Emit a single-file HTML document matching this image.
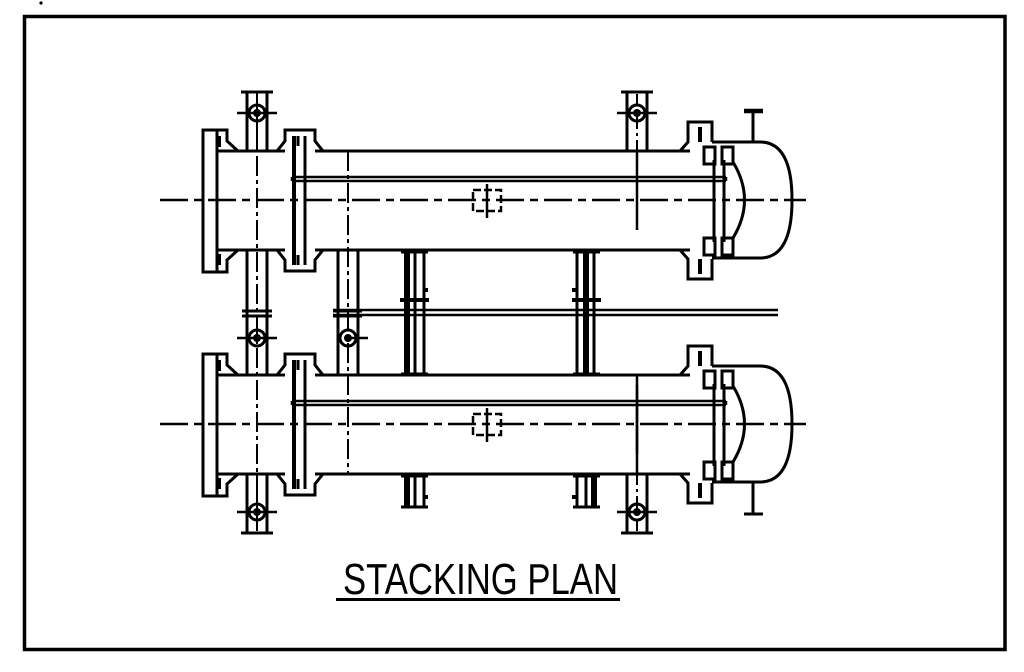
<!DOCTYPE html>
<html><head><meta charset="utf-8"><style>
html,body{margin:0;padding:0;background:#fff;}
svg{display:block;}
</style></head><body>
<svg width="1024" height="672" viewBox="0 0 1024 672" xmlns="http://www.w3.org/2000/svg">
<defs>
<g id="hx" fill="none" stroke="#000" stroke-width="3">
  <!-- left channel flange -->
  <rect x="203" y="130" width="14" height="142"/>
  <path d="M217,130 H227 V141 L238,151 M217,272 H227 V260 L238,250"/>
  <path d="M219,136 V147 M219,254 V265" stroke-width="4"/>
  <!-- channel body -->
  <path d="M217,151 H285 M217,250 H285"/>
  <!-- middle flange pair -->
  <path d="M277,151 L285,141 V130 H315 V141 L323,151"/>
  <path d="M277,250 L285,260 V271 H315 V260 L323,250"/>
  <path d="M294,136 V265" stroke-width="4"/>
  <path d="M305,136 V265"/>
  <path d="M298,136 V146 M298,255 V265" stroke-width="3"/>
  <!-- shell -->
  <path d="M315,151 H690 M315,250 H690"/>
  <!-- tie rod -->
  <path d="M292,177 H726 M292,181 H726 M292,177 V181 M726,177 V181" stroke-width="2.5"/>
  <!-- right flange -->
  <path d="M680,151 L688,142 V122 H712 V142"/>
  <path d="M680,250 L688,259 V279 H712 V259"/>
  <path d="M700,127 V142 M700,259 V274" stroke-width="4"/>
  <!-- head -->
  <path d="M712,142 H760 Q792,142 792,200 Q792,258 760,258 H712"/>
  <rect x="704" y="147" width="11" height="17"/>
  <rect x="722" y="147" width="11" height="17"/>
  <rect x="704" y="238" width="11" height="17"/>
  <rect x="722" y="238" width="11" height="17"/>
  <path d="M714,160 V242 M724,160 V242"/>
  <path d="M733,162 Q756,200 733,238"/>
  <!-- center mark -->
  <path d="M473,190 H501 V211 H473 Z" stroke-width="2.5" stroke-dasharray="8,3"/>
  <path d="M487,184 V218" stroke-width="2.5"/>
  <!-- centerline -->
  <path d="M160,200 H806" stroke-width="2.5" stroke-dasharray="28,6,8,6"/>
  <!-- vertical centerlines -->
  <path d="M637,151 V230" stroke-width="2.5"/>
</g>
<g id="noz" fill="none" stroke="#000" stroke-width="3">
  <path d="M-10,0 V60 M10,0 V60"/>
  <circle cx="0" cy="21" r="8"/>
  <path d="M-20,21 H20" stroke-width="2.5"/>
  <circle cx="0" cy="21" r="2.5" fill="#000"/>
  <path d="M-16,0 H16" stroke-width="3"/>
  <path d="M0,2 V58" stroke-width="2" stroke-dasharray="12,4,3,4"/>
</g>
</defs>

<rect x="24.5" y="16.5" width="980.5" height="633" fill="none" stroke="#000" stroke-width="3.5"/>
<circle cx="41" cy="3" r="1.6" fill="#000"/>

<use href="#hx"/>
<use href="#hx" transform="translate(0,224)"/>

<!-- top nozzles -->
<use href="#noz" transform="translate(257,92)"/>
<use href="#noz" transform="translate(637,92)"/>
<!-- bottom nozzles -->
<use href="#noz" transform="translate(257,533) scale(1,-1)"/>
<use href="#noz" transform="translate(637,533) scale(1,-1)"/>

<g fill="none" stroke="#000" stroke-width="3">
  <!-- vents -->
  <path d="M753,111 V142"/>
  <path d="M744,111 H763" stroke-width="4.5"/>
  <path d="M753,482 V513"/>
  <path d="M744,514 H763" stroke-width="3"/>
  <path d="M753,482 H760" stroke-width="3"/>

  <!-- nozzle pair between exchangers at x=257 -->
  <path d="M247,250 V375 M267,250 V375"/>
  <path d="M242,311 H272 M242,316 H272"/>
  <circle cx="257" cy="338" r="8"/>
  <circle cx="257" cy="338" r="2.5" fill="#000"/>
  <path d="M237,338 H277" stroke-width="2.5"/>
  <path d="M257,92 V534" stroke-width="2" stroke-dasharray="20,4,4,4"/>

  <!-- post at 348 -->
  <path d="M338,250 V375 M358,250 V375"/>
  <path d="M333,311 H362 M333,316 H362"/>
  <circle cx="348" cy="338" r="8"/>
  <circle cx="348" cy="338" r="2.5" fill="#000"/>
  <path d="M348,338 H368" stroke-width="2.5"/>
  <path d="M348,151 V474" stroke-width="2" stroke-dasharray="20,4,4,4"/>
  <path d="M637,385 V474" stroke-width="2.5"/>

  <!-- beam -->
  <path d="M333,310 H778 M333,315 H778" stroke-width="2.5"/>

  <!-- support posts -->
  <g id="post">
    <path d="M407,253 V373" stroke-width="6"/>
    <path d="M415,253 V373 M424,253 V373"/>
    <path d="M401,252 H428 M401,374 H428" stroke-width="3"/>
    <path d="M400,300 H429" stroke-width="4"/>
    <path d="M423,290 H428" stroke-width="4"/>
    <path d="M407,476 V507" stroke-width="6"/>
    <path d="M415,476 V507 M424,476 V507"/>
    <path d="M401,476 H428 M401,507 H428"/>
    <path d="M423,497 H428" stroke-width="4"/>
  </g>
  <g transform="translate(172,0)">
    <path d="M414,253 V373" stroke-width="6"/>
    <path d="M405,253 V373 M422,253 V373"/>
    <path d="M401,252 H428 M401,374 H428"/>
    <path d="M400,300 H429" stroke-width="4"/>
    <path d="M400,290 H405" stroke-width="4"/>
    <path d="M422,476 V507" stroke-width="6"/>
    <path d="M405,476 V507 M414,476 V507"/>
    <path d="M401,476 H428 M401,507 H428"/>
    <path d="M400,497 H405" stroke-width="4"/>
  </g>
</g>

<text x="343" y="594" font-family="'Liberation Sans', sans-serif" font-size="44" textLength="275" lengthAdjust="spacingAndGlyphs" fill="#000">STACKING PLAN</text>
<rect x="336" y="598" width="284" height="3" fill="#000"/>
</svg>
</body></html>
